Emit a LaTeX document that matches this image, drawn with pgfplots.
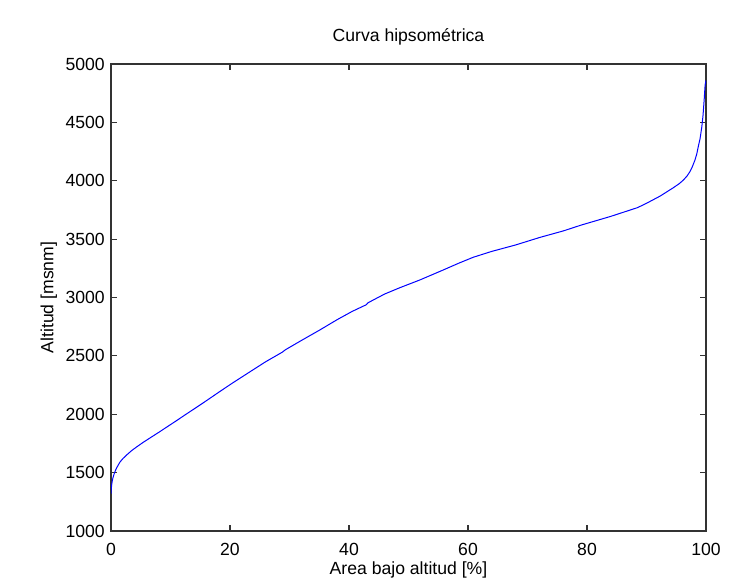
\documentclass[border=0pt]{standalone}
\usepackage{pgfplots}
\pgfplotsset{compat=1.18}
\usepackage{fontspec}
\setmainfont{Liberation Sans}
\begin{document}
\fontsize{13.2}{15.8}\selectfont
\begin{tikzpicture}
\path (-83.25pt,-42.75pt) rectangle (478.5pt,398.25pt);
\begin{axis}[
  at={(0,0)}, anchor=south west,
  scale only axis,
  width=446.25pt, height=350.25pt,
  xmin=0, xmax=100, ymin=1000, ymax=5000,
  xtick={0,20,40,60,80,100},
  ytick={1000,1500,2000,2500,3000,3500,4000,4500,5000},
  scaled y ticks=false,
  /pgf/number format/1000 sep={},
  /pgf/number format/assume math mode=true,
  tick align=inside,
  major tick length=4.5pt,
  axis line style={black!80, line width=0.8pt},
  every tick/.style={black!80, line width=0.8pt},
  xticklabel style={anchor=base, inner sep=0pt, yshift=-18pt, font=\fontsize{13.2}{15.8}\selectfont},
  yticklabel style={anchor=east, inner sep=0pt, xshift=-4.5pt, font=\fontsize{13.2}{15.8}\selectfont},
  title={Curva hipsométrica},
  title style={at={(axis description cs:0.5,1.0321)}, anchor=base, inner sep=0pt, font=\fontsize{13.2}{15.8}\selectfont},
  xlabel={Area bajo altitud [\%]},
  xlabel style={at={(axis description cs:0.5,-0.0942)}, anchor=base, inner sep=0pt, font=\fontsize{13.2}{15.8}\selectfont},
  ylabel={Altitud [msnm]},
  ylabel style={at={(axis description cs:-0.0970,0.5)}, anchor=base, inner sep=0pt, font=\fontsize{13.2}{15.8}\selectfont},
]
\addplot[blue, line width=0.75pt, mark=none] table {
x y
0 1320
0.05 1360
0.1 1390
0.2 1425
0.3 1450
0.45 1477
0.6 1500
0.8 1524
1.0 1545
1.25 1568
1.5 1590
2.0 1620
2.63 1651
3.5 1690
4.5 1727
5.43 1760
6.8 1805
8.24 1852
9.6 1898
11.04 1946
12.4 1993
13.8 2040
15.8 2108
18.3 2195
20.5 2270
23 2352
26 2450
28.8 2532
29.3 2552
32 2632
35.1 2722
38 2810
40.5 2880
42.9 2938
43.2 2955
46 3030
48.6 3085
51.9 3150
55.85 3236
58.5 3295
60.9 3345
64 3395
68 3450
72.1 3515
76 3570
79 3620
81 3650
84 3695
86.7 3740
88.5 3770
90 3807
92.3 3869
94.5 3940
95.5 3975
96.2 4006
96.8 4040
97.3 4078
97.7 4120
98.15 4178
98.45 4230
98.7 4292
99 4360
99.3 4463
99.5 4560
99.7 4700
99.85 4820
100 4860
};
\end{axis}
\end{tikzpicture}
\end{document}
